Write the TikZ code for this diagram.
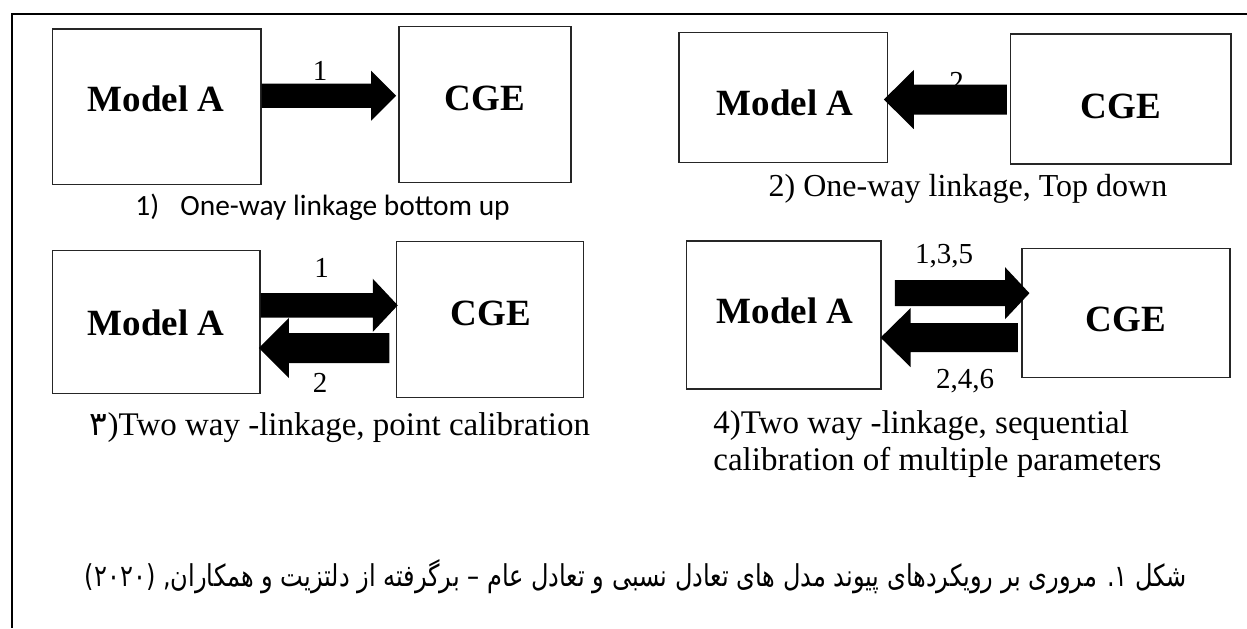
\documentclass[tikz,border=0pt]{standalone}
\usepackage{fontspec}
\usepackage{graphicx}
\setmainfont{Liberation Serif}
\newfontfamily\calibri{Carlito}
\newfontfamily\arabicfont[Script=Arabic]{DejaVu Sans}
\TeXXeTstate=1
\usetikzlibrary{calc}
\tikzset{
  box/.style={draw=black!85, line width=0.55pt, inner sep=0pt},
  boxtext/.style={font=\fontsize{18.5}{20}\selectfont\bfseries, anchor=base, inner sep=0pt},
  numtext/.style={font=\fontsize{14.5}{16}\selectfont, anchor=base, inner sep=0pt},
  captext/.style={font=\fontsize{16.5}{18.5}\selectfont, anchor=base, inner sep=0pt},
  sanscap/.style={font=\calibri\fontsize{14.7}{16}\selectfont, anchor=base west, inner sep=0pt},
  arrowfill/.style={fill=black},
  frameline/.style={line width=0.9pt, draw=black},
}
\newcommand\mkbox[5]{%
  \pgfmathsetmacro\bw{(#4-#2)*0.5}%
  \pgfmathsetmacro\bh{(#5-#3)*0.5}%
  \node[box, minimum width=\bw pt, minimum height=\bh pt] (#1) at ({(#2+#4)/2},{(#3+#5)/2}) {};}
% #1 tail, #2 tip, #3 shaft half height, #4 head half height, #5 signed head length
\newcommand\blockarrow[5]{%
  \fill[arrowfill] let \p1=(#1), \p2=(#2) in
    (\x1,{\y1+#3}) -- ({\x2-(#5)},{\y1+#3}) -- ({\x2-(#5)},{\y2+#4}) -- (\x2,\y2)
    -- ({\x2-(#5)},{\y2-#4}) -- ({\x2-(#5)},{\y1-#3}) -- (\x1,{\y1-#3}) -- cycle;}
\begin{document}
\begin{tikzpicture}[x=0.5pt, y=-0.5pt]
\useasboundingbox (0,0) rectangle (1247,628);
% frame
\coordinate (ftl) at (11.7,14);
\coordinate (ftr) at (1247,14);
\coordinate (fbl) at (11.7,628);
\draw[frameline] (ftr) -- (ftl) -- (fbl);
% boxes
\mkbox{MA1}{52.7}{29}{261}{184.3}
\mkbox{CGE1}{399}{26.7}{571}{182.7}
\mkbox{MA2}{679}{32.3}{887.7}{162.3}
\mkbox{CGE2}{1010.7}{34}{1231}{164}
\mkbox{MA3}{52.7}{250.7}{260}{393.3}
\mkbox{CGE3}{396.7}{241.5}{583.3}{397.3}
\mkbox{MA4}{686.7}{241}{881}{389}
\mkbox{CGE4}{1022}{248.3}{1230}{377.3}
% box texts
\node[boxtext] (tMA1) at (156,111.7) {Model A};
\node[boxtext] (tCGE1) at (485,110) {CGE};
\node[boxtext] (tMA2) at (785,115) {Model A};
\node[boxtext] (tCGE2) at (1121,118.3) {CGE};
\node[boxtext] (tMA3) at (156,335) {Model A};
\node[boxtext] (tCGE3) at (491,325) {CGE};
\node[boxtext] (tMA4) at (785,323.3) {Model A};
\node[boxtext] (tCGE4) at (1126,331.7) {CGE};
% number labels
\node[numtext] (n1) at (320,80) {1};
\node[numtext] (n2) at (956.7,91) {2};
\node[numtext] (n3a) at (321.7,277) {1};
\node[numtext] (n3b) at (320,392) {2};
\node[numtext] (n4a) at (944,263) {1,3,5};
\node[numtext] (n4b) at (965,388) {2,4,6};
% arrow end points
\coordinate (a1s) at (MA1.east |- 0,95.7);
\coordinate (a1e) at ($(CGE1.west |- 0,95.7)+(-1.15pt,0)$);
\coordinate (a2s) at ($(CGE2.west |- 0,99.5)+(-1.7pt,0)$);
\coordinate (a2e) at ($(MA2.east |- 0,99.5)+(-2.2pt,0)$);
\coordinate (a3s) at (MA3.east |- 0,305.3);
\coordinate (a3e) at ($(CGE3.west |- 0,305.3)+(0.8pt,0)$);
\coordinate (a3bs) at ($(CGE3.west |- 0,348)+(-3.35pt,0)$);
\coordinate (a3be) at ($(MA3.east |- 0,348)+(-0.85pt,0)$);
\coordinate (a4s) at ($(MA4.east |- 0,293.2)+(6.65pt,0)$);
\coordinate (a4e) at ($(CGE4.west |- 0,293.2)+(4pt,0)$);
\coordinate (a4bs) at ($(CGE4.west |- 0,337.6)+(-1.85pt,0)$);
\coordinate (a4be) at ($(MA4.east |- 0,337.6)+(-0.5pt,0)$);
% arrows
\blockarrow{a1s}{a1e}{6.1pt}{12.5pt}{12.5pt}
\blockarrow{a2s}{a2e}{7.5pt}{14.8pt}{-15pt}
\blockarrow{a3s}{a3e}{6.1pt}{13.3pt}{12.5pt}
\blockarrow{a3bs}{a3be}{7.5pt}{15pt}{-15pt}
\blockarrow{a4s}{a4e}{6.5pt}{13pt}{12.2pt}
\blockarrow{a4bs}{a4be}{7.25pt}{14.75pt}{-15pt}
% captions
\node[sanscap] (c1a) at (135,215) {1)};
\node[sanscap] (c1b) at (180,215) {One-way linkage bottom up};
\node[captext, font=\fontsize{16}{18}\selectfont] (c2) at (968,196.7) {2) One-way linkage, Top down};
\node[captext] (c3) at (340,435) {{\arabicfont ۳})Two way -linkage, point calibration};
\node[captext, anchor=base west] (c4a) at (713,433) {4)Two way -linkage, sequential};
\node[captext, anchor=base west] (c4b) at (713,470) {calibration of multiple parameters};
\node[inner sep=0pt] (fa) at (636,577) {\scalebox{1}[1.25]{\resizebox{551pt}{!}{\arabicfont\beginR شکل ۱. مروری بر رویکردهای پیوند مدل های تعادل نسبی و تعادل عام – برگرفته از دلتزیت و همکاران, (۲۰۲۰)\endR}}};
\end{tikzpicture}
\end{document}
